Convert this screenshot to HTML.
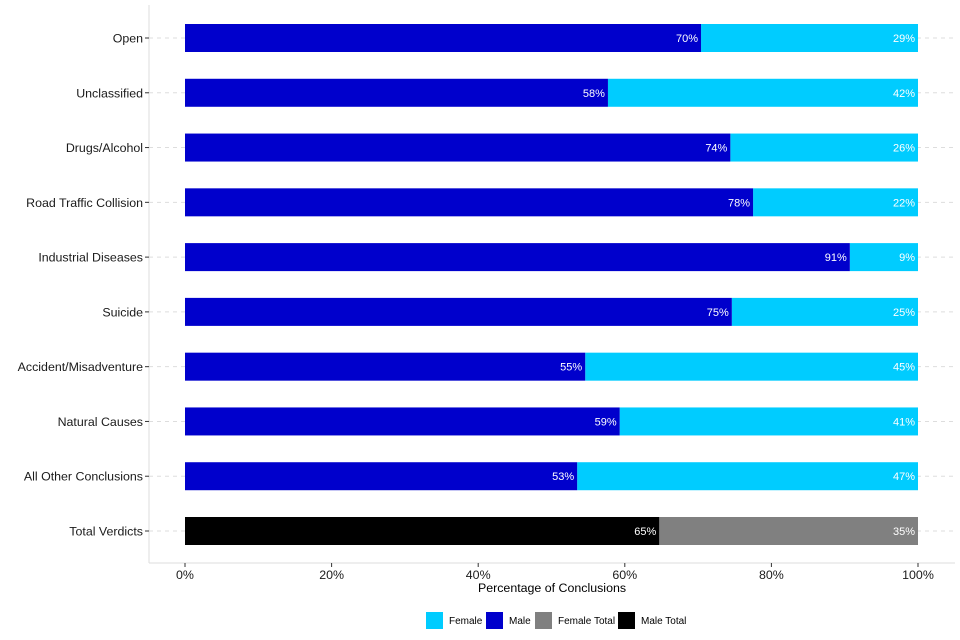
<!DOCTYPE html>
<html><head><meta charset="utf-8"><style>
html,body{margin:0;background:#fff;font-family:"Liberation Sans",sans-serif;overflow:hidden;width:960px;height:640px}
svg{display:block}
svg text{font-family:"Liberation Sans",sans-serif}
</style></head><body>
<svg id="chart" width="960" height="640" xmlns="http://www.w3.org/2000/svg"></svg>
<script>
const categories=["Open","Unclassified","Drugs/Alcohol","Road Traffic Collision","Industrial Diseases","Suicide","Accident/Misadventure","Natural Causes","All Other Conclusions","Total Verdicts"];
const maleValues=[70.4,57.7,74.4,77.5,90.7,74.6,54.6,59.3,53.5,64.7];
const maleLabels=["70%","58%","74%","78%","91%","75%","55%","59%","53%","65%"];
const femaleLabels=["29%","42%","26%","22%","9%","25%","45%","41%","47%","35%"];
const xTicks=[0,20,40,60,80,100];
const xTickLabels=["0%","20%","40%","60%","80%","100%"];
const NS="http://www.w3.org/2000/svg";
const svg=document.getElementById("chart");
function mk(tag,attrs,parent){const e=document.createElementNS(NS,tag);for(const k in attrs)e.setAttribute(k,attrs[k]);(parent||svg).appendChild(e);return e;}
const x=v=>185+v*7.33;
const y=i=>38+i*(531-38)/(categories.length-1);
const bh=28;
categories.forEach((c,i)=>{
 const g=mk("line",{x1:149,x2:955,y1:y(i),y2:y(i),stroke:"#dddddd","stroke-dasharray":"4,4","stroke-width":1});
 
 
});
const ax=mk("line",{x1:149,x2:149,y1:5,y2:563,stroke:"#dddddd"});


const bx=mk("line",{x1:149,x2:955,y1:563,y2:563,stroke:"#dddddd"});


categories.forEach((c,i)=>{
 const last=i===categories.length-1;
 const mv=maleValues[i];
 const fr=mk("rect",{x:x(mv),y:y(i)-bh/2,width:x(100)-x(mv),height:bh,fill:last?"#808080":"#00ccff"});
 
 
 const mr=mk("rect",{x:x(0),y:y(i)-bh/2,width:x(mv)-x(0),height:bh,fill:last?"#000000":"#0000cc"});
 
 
 const ml=mk("text",{x:x(mv)-3,y:y(i)+4,"text-anchor":"end","font-size":11,fill:"#fff"});ml.textContent=maleLabels[i];
 
 
 const fl=mk("text",{x:x(100)-3,y:y(i)+4,"text-anchor":"end","font-size":11,fill:"#fff"});fl.textContent=femaleLabels[i];
 
 
 const tk=mk("line",{x1:145,x2:149,y1:y(i),y2:y(i),stroke:"#333"});
 
 
 const cl=mk("text",{x:143,y:y(i)+4.5,"text-anchor":"end","font-size":12.4,fill:"#1a1a1a"});cl.textContent=c;
 
 
});
xTicks.forEach((t,i)=>{
 const tk=mk("line",{x1:x(t),x2:x(t),y1:563,y2:567,stroke:"#333"});
 
 
 const tl=mk("text",{x:x(t),y:579,"text-anchor":"middle","font-size":12.4,fill:"#1a1a1a"});tl.textContent=xTickLabels[i];
 
 
});
const xt=mk("text",{x:552,y:592,"text-anchor":"middle","font-size":12.4,fill:"#000"});xt.textContent="Percentage of Conclusions";


const legend=[["Female","#00ccff",426],["Male","#0000cc",486],["Female Total","#808080",535],["Male Total","#000000",618]];
legend.forEach(l=>{
 const r=mk("rect",{x:l[2],y:612,width:17,height:17,fill:l[1]});
 
 
 const t=mk("text",{x:l[2]+23,y:624,"font-size":10,fill:"#000"});t.textContent=l[0];
 
 
});
</script>
</body></html>
